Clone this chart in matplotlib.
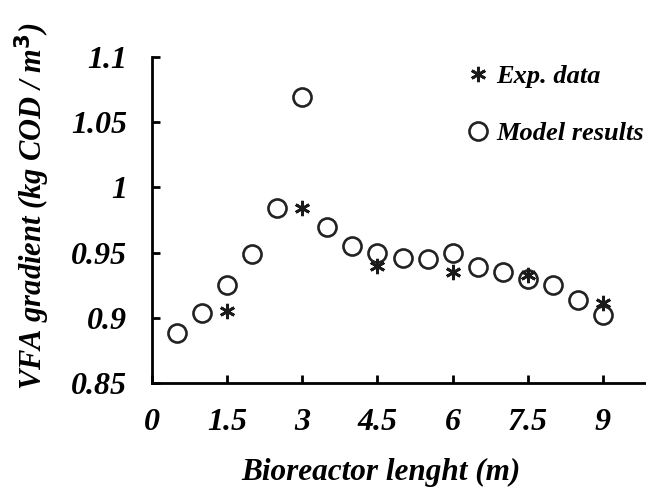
import matplotlib.pyplot as plt

# data
model_x = [0.5, 1, 1.5, 2, 2.5, 3, 3.5, 4, 4.5, 5, 5.5, 6, 6.5, 7, 7.5, 8, 8.5, 9]
model_y = [0.888, 0.904, 0.925, 0.949, 0.984, 1.069, 0.970, 0.955, 0.950,
           0.946, 0.945, 0.950, 0.939, 0.935, 0.930, 0.925, 0.914, 0.902]

exp_x = [1.5, 3, 4.5, 6, 7.5, 9]
exp_y = [0.905, 0.984, 0.940, 0.935, 0.933, 0.911]

x_ticks = [0, 1.5, 3, 4.5, 6, 7.5, 9]
x_labels = ['0', '1.5', '3', '4.5', '6', '7.5', '9']
y_ticks = [0.85, 0.9, 0.95, 1, 1.05, 1.1]
y_labels = ['0.85', '0.9', '0.95', '1', '1.05', '1.1']

plt.rcParams['font.family'] = ['Liberation Serif', 'DejaVu Serif']
font = dict(weight='bold', style='italic')

fig = plt.figure(figsize=(6.46, 4.9), dpi=100)
ax = fig.add_axes([0.2353, 0.2184, 0.7647, 0.6653])

ax.plot(exp_x, exp_y, linestyle='none', marker=(6, 2, 0), markersize=11,
        markeredgewidth=2, color='#1a1a1a', label='Exp. data', zorder=3)
ax.plot(model_x, model_y, linestyle='none', marker='o', markersize=13,
        markerfacecolor='none', markeredgewidth=1.9, markeredgecolor='#222222',
        label='Model results', zorder=2)

ax.set_xlim(0, 9.86)
ax.set_ylim(0.85, 1.1)
ax.set_xticks(x_ticks)
ax.set_xticklabels(x_labels, fontsize=23, **font)
ax.set_yticks(y_ticks)
ax.set_yticklabels(y_labels, fontsize=23, **font)

ax.spines['top'].set_visible(False)
ax.spines['right'].set_visible(False)
ax.spines['left'].set_linewidth(2)
ax.spines['bottom'].set_linewidth(2)
ax.tick_params(direction='in', length=6, width=2)
ax.tick_params(axis='x', pad=18)
ax.tick_params(axis='y', pad=18)

ax.set_xlabel('Bioreactor lenght (m)', fontsize=22.5, **font)
ax.xaxis.set_label_coords(0.464, -0.23)
ax.set_ylabel('VFA gradient (kg COD / m$^{\\mathbf{3}}$)', fontsize=22, **font)
ax.yaxis.set_label_coords(-0.203, 0.543)

leg = ax.legend(loc='upper left', bbox_to_anchor=(0.617, 1.01), frameon=False,
                handletextpad=0.3, labelspacing=1.29, handlelength=0.8,
                borderaxespad=0, prop=dict(size=19, **font))

fig.savefig('out.png', dpi=100)
